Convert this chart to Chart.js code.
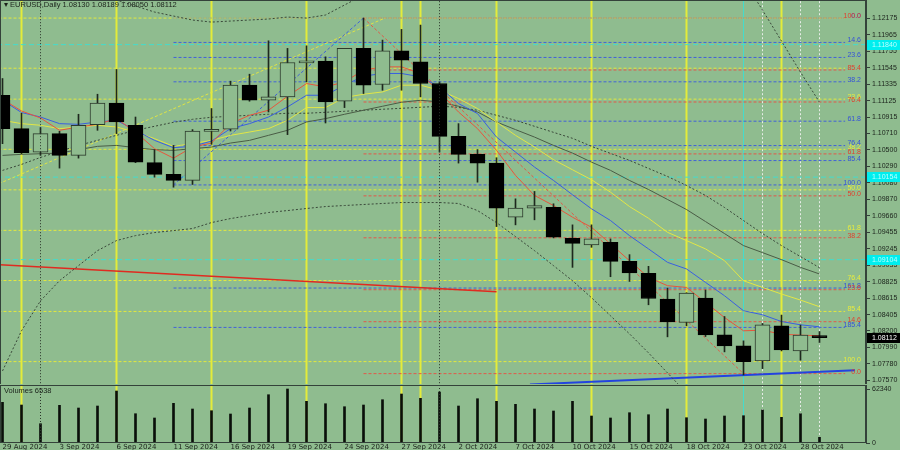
<!DOCTYPE html>
<html>
<head>
<meta charset="utf-8">
<script src="https://cdn.jsdelivr.net/npm/chart.js@4.4.1/dist/chart.umd.min.js"></script>
<style>
  html, body { margin: 0; padding: 0; background: #8fbc8f; }
  #wrap { position: relative; width: 900px; height: 450px; overflow: hidden; background: #8fbc8f; }
  #price { position: absolute; left: 0; top: 0; }
  #vol { position: absolute; left: 0; top: 385px; }
</style>
</head>
<body>
<div id="wrap">
  <canvas id="price" width="900" height="384"></canvas>
  <canvas id="vol" width="900" height="65"></canvas>
</div>
<script>
/* ================= DATA ================= */
const dates = ['29 Aug 2024','30 Aug 2024','2 Sep 2024','3 Sep 2024','4 Sep 2024','5 Sep 2024','6 Sep 2024',
  '9 Sep 2024','10 Sep 2024','11 Sep 2024','12 Sep 2024','13 Sep 2024','16 Sep 2024','17 Sep 2024','18 Sep 2024',
  '19 Sep 2024','20 Sep 2024','23 Sep 2024','24 Sep 2024','25 Sep 2024','26 Sep 2024','27 Sep 2024','30 Sep 2024',
  '1 Oct 2024','2 Oct 2024','3 Oct 2024','4 Oct 2024','7 Oct 2024','8 Oct 2024','9 Oct 2024','10 Oct 2024',
  '11 Oct 2024','14 Oct 2024','15 Oct 2024','16 Oct 2024','17 Oct 2024','18 Oct 2024','21 Oct 2024','22 Oct 2024',
  '23 Oct 2024','24 Oct 2024','25 Oct 2024','28 Oct 2024','29 Oct 2024'];

const open  = [1.11196,1.10771,1.10473,1.10708,1.10431,1.10822,1.11098,1.10813,1.10338,1.10189,1.10112,1.10737,
  1.10763,1.11324,1.11132,1.11175,1.11608,1.11630,1.11120,1.11792,1.11333,1.11761,1.11621,1.11345,1.10673,1.10444,
  1.10333,1.09644,1.09759,1.09771,1.09376,1.09292,1.09325,1.09082,1.08929,1.08603,1.08304,1.08616,1.08148,1.08007,
  1.07816,1.08262,1.07943,1.08130];
const high  = [1.11409,1.10967,1.10784,1.10737,1.10954,1.11209,1.11524,1.10919,1.10504,1.10558,1.10759,1.11027,
  1.11375,1.11464,1.11889,1.11792,1.11825,1.11685,1.11792,1.12178,1.11898,1.12034,1.12089,1.11366,1.10835,1.10504,
  1.10401,1.09878,1.09972,1.09815,1.09547,1.09547,1.09368,1.09168,1.09019,1.08743,1.08683,1.08718,1.08381,1.08071,
  1.08292,1.08399,1.08271,1.08189];
const low   = [1.10580,1.10452,1.10431,1.10269,1.10396,1.10750,1.10708,1.10338,1.10154,1.10026,1.10061,1.10571,
  1.10741,1.11120,1.10983,1.10695,1.11366,1.10843,1.11039,1.11218,1.11260,1.11260,1.11175,1.10473,1.10333,1.10090,
  1.09525,1.09547,1.09611,1.09381,1.09006,1.09261,1.08887,1.08827,1.08530,1.08122,1.08262,1.08126,1.07931,1.07637,
  1.07718,1.07943,1.07825,1.08050];
const close = [1.10771,1.10465,1.10708,1.10431,1.10813,1.11098,1.10856,1.10345,1.10189,1.10112,1.10741,1.10750,
  1.11324,1.11132,1.11175,1.11613,1.11625,1.11111,1.11792,1.11324,1.11761,1.11643,1.11345,1.10673,1.10444,1.10333,
  1.09759,1.09759,1.09793,1.09389,1.09312,1.09368,1.09082,1.08935,1.08610,1.08313,1.08679,1.08148,1.08007,1.07807,
  1.08275,1.07956,1.08144,1.08112];

const volume = [46970,43850,22270,43510,40390,42700,60010,33810,28850,45810,39240,37270,33470,40390,55740,62340,
  48120,45350,41890,43850,49970,56550,51580,58850,42700,51120,48120,44660,39240,36930,48120,31160,28850,34970,
  32660,39240,29200,27700,31160,31500,38080,29660,33810,6538];

// moving averages and bands
const maRed = [1.11145,1.10996,1.10907,1.10750,1.10792,1.10826,1.10899,1.10728,1.10516,1.10396,1.10537,1.10588,
  1.10835,1.10941,1.11005,1.11183,1.11345,1.11302,1.11366,1.11515,1.11557,1.11557,1.11473,1.11234,1.10983,1.10771,
  1.10495,1.10176,1.09921,1.09793,1.09644,1.09516,1.09305,1.09091,1.08878,1.08773,1.08751,1.08560,1.08368,1.08199,
  1.08207,1.08156,1.08144,1.08135];
const maBlue = [1.11132,1.10976,1.10919,1.10835,1.10826,1.10856,1.10877,1.10750,1.10622,1.10529,1.10546,1.10613,
  1.10771,1.10835,1.10919,1.11047,1.11196,1.11196,1.11324,1.11439,1.11473,1.11473,1.11430,1.11302,1.11090,1.10963,
  1.10664,1.10473,1.10282,1.10112,1.09930,1.09751,1.09602,1.09410,1.09241,1.09070,1.08986,1.08815,1.08645,1.08454,
  1.08403,1.08317,1.08275,1.08250];
const maYellow = [1.10877,1.10835,1.10814,1.10771,1.10792,1.10814,1.10792,1.10728,1.10644,1.10546,1.10580,1.10622,
  1.10686,1.10728,1.10771,1.10877,1.11039,1.11039,1.11167,1.11209,1.11238,1.11324,1.11324,1.11260,1.11154,1.11027,
  1.10856,1.10686,1.10537,1.10376,1.10248,1.10121,1.09963,1.09780,1.09631,1.09452,1.09347,1.09241,1.09091,1.08836,
  1.08751,1.08667,1.08590,1.08505];
const maGrey = [1.10431,1.10444,1.10452,1.10460,1.10504,1.10546,1.10558,1.10529,1.10504,1.10495,1.10516,1.10537,
  1.10588,1.10622,1.10686,1.10750,1.10856,1.10899,1.10954,1.11005,1.11056,1.11107,1.11132,1.11111,1.11056,1.10983,
  1.10856,1.10759,1.10664,1.10558,1.10460,1.10345,1.10240,1.10112,1.09997,1.09870,1.09742,1.09589,1.09436,1.09283,
  1.09194,1.09104,1.09006,1.08922];
const maSlow = [1.10240,1.10316,1.10405,1.10482,1.10558,1.10622,1.10686,1.10750,1.10801,1.10852,1.10890,1.10916,
  1.10928,1.10941,1.10954,1.10967,1.10967,1.10979,1.10992,1.11005,1.11018,1.11030,1.11043,1.11056,1.11043,1.11005,
  1.10941,1.10877,1.10801,1.10724,1.10648,1.10546,1.10456,1.10367,1.10265,1.10163,1.10048,1.09921,1.09768,1.09602,
  1.09436,1.09283,1.09143,1.09002];
const bandUpper = [1.13173,1.13046,1.12918,1.12791,1.12663,1.12536,1.12408,1.12331,1.12255,1.12204,1.12153,1.12127,
  1.12140,1.12153,1.12166,1.12191,1.12178,1.12217,1.12344,1.12472,1.12727,1.12791,1.12791,1.12791,1.12791,1.12791,
  1.12791,1.12854,1.12918,1.12982,1.13046,1.13110,1.13173,1.13173,1.13173,1.13173,1.13110,1.13046,1.12918,1.12663,
  1.12280,1.11885,1.11490,1.11107];
const bandLower = [1.07688,1.08199,1.08581,1.08836,1.09028,1.09219,1.09347,1.09410,1.09449,1.09474,1.09500,1.09576,
  1.09627,1.09666,1.09704,1.09729,1.09755,1.09780,1.09793,1.09806,1.09819,1.09831,1.09831,1.09831,1.09819,1.09729,
  1.09576,1.09398,1.09219,1.09028,1.08836,1.08620,1.08390,1.08160,1.07918,1.07663,1.07408,1.07242,1.07114,1.06987,
  1.06923,1.06923,1.06948,1.06987];

const priceTicks = [1.12175,1.11965,1.11755,1.11545,1.11335,1.11125,1.10915,1.10710,1.10500,1.10290,1.10080,
  1.09870,1.09660,1.09455,1.09245,1.09035,1.08825,1.08615,1.08405,1.08200,1.07990,1.07780,1.07570];
const volTicks = [0, 62340];
const dateTickIdx = [0,3,6,9,12,15,18,21,24,27,30,33,36,39,42];

// fibonacci grids: [start bar, price at 0%, price at 100%]
const fibLevels  = [0, 14.6, 23.6, 38.2, 50, 61.8, 76.4, 85.4, 100];
const blueLevels = [0, 14.6, 23.6, 38.2, 61.8, 76.4, 85.4, 100, 161.8, 185.4];
const redFib    = [19, 1.07654, 1.12178];
const blueFib   = [9, 1.12178, 1.10055];
const yellowFib = [-1, 1.12178, 1.07807];
const yellowUnlabelled = [0, 14.6];
const cyanLevels = [1.11840, 1.10154, 1.09104];

// trend lines: [bar, price] pairs
const redTrend    = [[-0.2, 1.09040], [26, 1.08696]];
const blueTrend   = [[27.76, 1.07516], [44.87, 1.07697]];
const redDiag     = [[19, 1.12178], [39, 1.07654]];
const blueDiag    = [[9, 1.10055], [19, 1.12178]];
const yellowDiag  = [[-0.2, 1.10070], [20.13, 1.12178]];

// vertical markers (bar index)
const yellowMarks = [1, 6, 11, 16, 21, 22, 26, 31, 36, 41];
const monthMarks  = [2, 23];
const cyanMarks   = [39];
const whiteMarks  = [40, 42, 43];

const lastQuote = [1.08130, 1.08189, 1.08050, 1.08112];
const lastVolume = 6538;

/* ================= STYLE ================= */
const BG = '#8fbc8f';
const FRAME = '#34423a';
const TEXT = '#1b221b';
const X_MIN = -2.5 / 19;
const X_MAX = X_MIN + 866 / 19;
const LINE_END = 44.35;
const P_MIN = 1.07522, P_MAX = 1.12408;
const V_MAX = 66960;
const FONT = 'Liberation Sans';

Chart.defaults.font.family = FONT;
Chart.defaults.color = TEXT;

const pts = arr => arr.map((v, i) => ({x: i, y: v}));
const seg = pairs => pairs.map(([x, y]) => ({x, y}));
const fibPrice = (g, l) => g[1] + (g[2] - g[1]) * l / 100;

function lineDs(data, color, extra) {
  return Object.assign({
    type: 'line', data, borderColor: color, borderWidth: 1, pointRadius: 0,
    fill: false, tension: 0, clip: 0, order: 5
  }, extra || {});
}

function verticals(marks, lo, hi, color, extra) {
  return marks.map(m => lineDs(seg([[m, lo], [m, hi]]), color, Object.assign({order: 9}, extra)));
}

function fixAxis(width, height) {
  return scale => {
    if (width !== undefined) scale.width = width;
    if (height !== undefined) scale.height = height;
    scale.paddingTop = 0; scale.paddingBottom = 0;
    scale.paddingLeft = 0; scale.paddingRight = 0;
  };
}

/* ================= PRICE PANEL ================= */
const priceSets = [];

// candle bodies on top, then wicks
priceSets.push({
  type: 'bar', order: 0, grouped: false, clip: 0,
  data: dates.map((d, i) => ({x: i, y: [open[i], close[i]]})),
  backgroundColor: dates.map((d, i) => close[i] >= open[i] ? BG : '#000000'),
  borderColor: dates.map((d, i) => close[i] >= open[i] ? '#2c3a2c' : '#000000'),
  borderWidth: 1, borderSkipped: false, barThickness: 15, minBarLength: 2
});
priceSets.push({
  type: 'bar', order: 1, grouped: false, clip: 0,
  data: dates.map((d, i) => ({x: i, y: [low[i], high[i]]})),
  backgroundColor: '#1e281e', borderWidth: 0, barThickness: 1
});

// period separators sit above the candles
verticals(monthMarks, P_MIN - 1, P_MAX + 1, '#2a342a', {order: -1, borderDash: [1, 2]}).forEach(d => priceSets.push(d));

// indicators
priceSets.push(lineDs(pts(maRed), '#e8553c', {order: 3}));
priceSets.push(lineDs(pts(maBlue), '#3a5fe0', {order: 3}));
priceSets.push(lineDs(pts(maYellow), '#e2e646', {order: 3}));
priceSets.push(lineDs(pts(maGrey), '#4a5c46', {order: 3}));
priceSets.push(lineDs(pts(maSlow), '#3a483a', {order: 3, borderDash: [2, 2]}));
priceSets.push(lineDs(pts(bandUpper), '#3a483a', {order: 3, borderDash: [2, 2]}));
priceSets.push(lineDs(pts(bandLower), '#3a483a', {order: 3, borderDash: [2, 2]}));

// trend lines and fibo diagonals
priceSets.push(lineDs(seg(redTrend), '#e02a20', {order: 4, borderWidth: 1.5}));
priceSets.push(lineDs(seg(blueTrend), '#2243e0', {order: 4, borderWidth: 2}));
priceSets.push(lineDs(seg(redDiag), '#e05a48', {order: 4, borderDash: [3, 2]}));
priceSets.push(lineDs(seg(blueDiag), '#3f5fd8', {order: 4, borderDash: [3, 2]}));
priceSets.push(lineDs(seg(yellowDiag), '#e0e444', {order: 4, borderDash: [3, 2]}));

// fibo level lines
const grids = [
  {g: yellowFib, levels: fibLevels, color: '#e2e83e', text: '#e8ec3c', skip: yellowUnlabelled},
  {g: blueFib, levels: blueLevels, color: '#4262d8', text: '#3452d8', skip: []},
  {g: redFib, levels: fibLevels, color: '#e2584a', text: '#e0402e', skip: []}
];
grids.forEach(gr => gr.levels.forEach(l => {
  const p = fibPrice(gr.g, l);
  priceSets.push(lineDs(seg([[gr.g[0], p], [LINE_END, p]]), gr.color, {order: 6, borderDash: [3, 2]}));
}));
cyanLevels.forEach(p => priceSets.push(lineDs(seg([[X_MIN - 1, p], [X_MAX + 1, p]]), '#44dccc', {order: 6, borderDash: [5, 3]})));

// vertical objects
verticals(yellowMarks, P_MIN - 1, P_MAX + 1, '#e4ec3a', {borderWidth: 2}).forEach(d => priceSets.push(d));
verticals(cyanMarks, P_MIN - 1, P_MAX + 1, '#44dccc').forEach(d => priceSets.push(d));
verticals(whiteMarks, P_MIN - 1, P_MAX + 1, '#e6ece6', {borderDash: [2, 2]}).forEach(d => priceSets.push(d));

const priceDecor = {
  id: 'priceDecor',
  afterDraw(chart) {
    const {ctx, chartArea: a, scales: {y}} = chart;
    ctx.save();
    ctx.strokeStyle = FRAME; ctx.lineWidth = 1;
    ctx.strokeRect(a.left + 0.5, a.top + 0.5, a.right - a.left - 1, a.bottom - a.top);

    // fibo level captions
    ctx.font = '7px ' + FONT; ctx.textAlign = 'right'; ctx.textBaseline = 'middle';
    grids.forEach(gr => gr.levels.forEach(l => {
      if (gr.skip.includes(l)) return;
      ctx.fillStyle = gr.text;
      ctx.fillText(l.toFixed(1), a.right - 5, y.getPixelForValue(fibPrice(gr.g, l)) - 2);
    }));

    // price boxes on the axis
    ctx.textAlign = 'left';
    cyanLevels.forEach(p => {
      const py = Math.round(y.getPixelForValue(p));
      ctx.fillStyle = '#00eeee'; ctx.fillRect(a.right + 1, py - 5, chart.width - a.right, 10);
      ctx.fillStyle = '#b8ffff'; ctx.fillText(p.toFixed(5), a.right + 6, py);
    });
    const py = Math.round(y.getPixelForValue(lastQuote[3]));
    ctx.fillStyle = '#000'; ctx.fillRect(a.right + 1, py - 5, chart.width - a.right, 10);
    ctx.fillStyle = '#fff'; ctx.fillText(lastQuote[3].toFixed(5), a.right + 6, py);

    // title
    ctx.font = '7.5px ' + FONT; ctx.fillStyle = TEXT;
    ctx.fillText('\u25BE EURUSD,Daily ' + lastQuote.map(v => v.toFixed(5)).join(' '), a.left + 4, 5);
    ctx.restore();
  }
};

new Chart(document.getElementById('price'), {
  type: 'line',
  data: {datasets: priceSets},
  options: {
    responsive: false, animation: false, events: [],
    layout: {padding: 0},
    plugins: {legend: {display: false}, tooltip: {enabled: false}},
    scales: {
      x: {type: 'linear', min: X_MIN, max: X_MAX, offset: false, display: false},
      y: {
        type: 'linear', position: 'right', min: P_MIN, max: P_MAX,
        afterBuildTicks: s => { s.ticks = priceTicks.map(v => ({value: v})); },
        afterFit: fixAxis(34),
        grid: {drawOnChartArea: false, drawTicks: true, tickLength: 4, color: FRAME},
        border: {display: true, color: FRAME},
        ticks: {autoSkip: false, padding: 2, font: {size: 7}, color: TEXT, callback: v => v.toFixed(5)}
      }
    }
  },
  plugins: [priceDecor]
});

/* ================= VOLUME PANEL ================= */
const volSets = [{
  type: 'bar', order: 0, grouped: false, clip: 0,
  data: volume.map((v, i) => ({x: i, y: v})),
  backgroundColor: '#0a0f0a', borderWidth: 0, barThickness: 2
}];
verticals(monthMarks, 0, V_MAX * 2, '#2a342a', {order: -1, borderDash: [1, 2]}).forEach(d => volSets.push(d));
verticals(yellowMarks, 0, V_MAX * 2, '#e4ec3a', {borderWidth: 2}).forEach(d => volSets.push(d));
verticals(cyanMarks, 0, V_MAX * 2, '#44dccc').forEach(d => volSets.push(d));
verticals(whiteMarks, 0, V_MAX * 2, '#e6ece6', {borderDash: [2, 2]}).forEach(d => volSets.push(d));

const volDecor = {
  id: 'volDecor',
  afterDraw(chart) {
    const {ctx, chartArea: a} = chart;
    ctx.save();
    ctx.strokeStyle = FRAME; ctx.lineWidth = 1;
    ctx.strokeRect(a.left + 0.5, a.top + 0.5, a.right - a.left - 1, a.bottom - a.top - 1);
    ctx.font = '7.5px ' + FONT; ctx.fillStyle = TEXT; ctx.textBaseline = 'top';
    ctx.fillText('Volumes ' + lastVolume, a.left + 4, a.top + 2);
    ctx.restore();
  }
};

new Chart(document.getElementById('vol'), {
  type: 'bar',
  data: {datasets: volSets},
  options: {
    responsive: false, animation: false, events: [],
    layout: {padding: 0},
    plugins: {legend: {display: false}, tooltip: {enabled: false}},
    scales: {
      x: {
        type: 'linear', min: X_MIN, max: X_MAX, offset: false,
        afterBuildTicks: s => { s.ticks = dateTickIdx.map(v => ({value: v})); },
        afterFit: fixAxis(undefined, 7),
        grid: {drawOnChartArea: false, drawTicks: false, color: FRAME, offset: false},
        border: {display: false},
        ticks: {autoSkip: false, maxRotation: 0, align: 'start', padding: 0, color: TEXT,
          font: {family: 'DejaVu Sans', size: 7, lineHeight: 1.1},
          callback: v => dates[v] || ''}
      },
      y: {
        type: 'linear', position: 'right', min: 0, max: V_MAX,
        afterBuildTicks: s => { s.ticks = volTicks.map(v => ({value: v})); },
        afterFit: fixAxis(34),
        grid: {drawOnChartArea: false, drawTicks: true, tickLength: 4, color: FRAME},
        border: {display: true, color: FRAME},
        ticks: {autoSkip: false, padding: 2, font: {size: 7}, color: TEXT, callback: v => String(v)}
      }
    }
  },
  plugins: [volDecor]
});
</script>
</body>
</html>
